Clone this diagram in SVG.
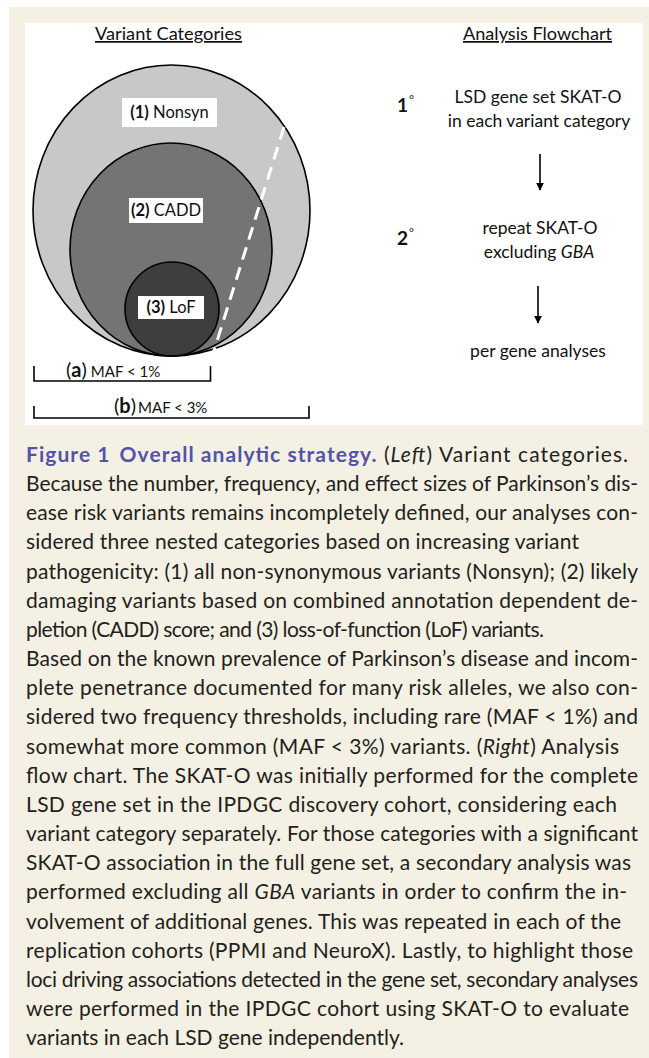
<svg xmlns="http://www.w3.org/2000/svg" width="649" height="1058" viewBox="0 0 649 1058">
<defs>
<style>
.dg{font-family:Lato,"Open Sans","Liberation Sans",sans-serif;fill:#111;}
.cap{font-family:Lato,"Liberation Sans",sans-serif;font-size:21px;fill:#231f20;}
.hd{font-size:17.5px;text-decoration:underline;}
.fl{font-size:17.5px;}
.lbl{font-size:16.5px;}
.box{fill:#fff;}
.ring{stroke:#000;stroke-width:1.6;}
.br{fill:none;stroke:#000;stroke-width:1.6;}
.arr{stroke:#000;stroke-width:1.6;fill:none;}
</style>
<marker id="ah" viewBox="0 0 10 10" refX="9" refY="5" markerWidth="5" markerHeight="5" orient="auto" markerUnits="strokeWidth">
<path d="M0,0 L10,5 L0,10 z" fill="#000"/>
</marker>
</defs>
<rect x="9" y="7" width="640" height="1051" fill="#f4f0e3"/>
<rect x="25" y="23" width="618" height="402" fill="#fff"/>

<g id="variant-categories-title"><text class="dg hd" x="168.5" y="40" text-anchor="middle" textLength="147" lengthAdjust="spacingAndGlyphs">Variant Categories</text></g>
<g id="analysis-flowchart-title"><text class="dg hd" x="537.5" y="40" text-anchor="middle" textLength="149" lengthAdjust="spacingAndGlyphs">Analysis Flowchart</text></g>

<g id="nonsyn">
<ellipse class="ring" cx="171.5" cy="210.5" rx="138.5" ry="145.5" fill="#c8c8c8"/>
</g>
<g id="cadd">
<ellipse class="ring" cx="171" cy="249.5" rx="101" ry="106.5" fill="#747474"/>
</g>
<g id="lof">
<ellipse class="ring" cx="172" cy="309" rx="47" ry="47" fill="#3e3e3e"/>
</g>
<g id="maf-divider">
<line x1="284" y1="127" x2="213" y2="354" stroke="#fff" stroke-width="3" stroke-dasharray="13,8"/>
</g>
<g id="label-nonsyn">
<rect class="box" x="122" y="98" width="95" height="29"/>
<text class="dg lbl" x="169.5" y="118" text-anchor="middle"><tspan font-weight="bold">(1)</tspan> Nonsyn</text>
</g>
<g id="label-cadd">
<rect class="box" x="129" y="198" width="74" height="25"/>
<text class="dg lbl" x="166" y="216" text-anchor="middle"><tspan font-weight="bold">(2)</tspan> CADD</text>
</g>
<g id="label-lof">
<rect class="box" x="138" y="296" width="66" height="23"/>
<text class="dg lbl" x="171" y="313" text-anchor="middle"><tspan font-weight="bold">(3)</tspan> LoF</text>
</g>

<g id="maf-1">
<path class="br" d="M34,366 V381 H210.5 V366"/>
<text class="dg" x="66" y="377" font-size="20">(<tspan font-weight="bold">a</tspan>)<tspan font-size="15" dx="4">MAF &lt; 1%</tspan></text>
</g>
<g id="maf-3">
<path class="br" d="M34,406 V418 H309 V406"/>
<text class="dg" x="114" y="413" font-size="20">(<tspan font-weight="bold">b</tspan>)<tspan font-size="15" dx="2">MAF &lt; 3%</tspan></text>
</g>

<g id="step-1">
<text class="dg" x="397" y="112" font-size="19"><tspan font-weight="bold">1</tspan><tspan font-size="12" dy="-8" dx="1">°</tspan></text>
<text class="dg fl" x="538" y="103" text-anchor="middle">LSD gene set SKAT-O</text>
<text class="dg fl" x="539" y="127" text-anchor="middle">in each variant category</text>
</g>
<g id="step-2">
<text class="dg" x="397" y="245" font-size="19"><tspan font-weight="bold">2</tspan><tspan font-size="12" dy="-8" dx="1">°</tspan></text>
<text class="dg fl" x="540" y="234" text-anchor="middle">repeat SKAT-O</text>
<text class="dg fl" x="539" y="258" text-anchor="middle">excluding <tspan font-style="italic">GBA</tspan></text>
</g>
<g id="step-3">
<text class="dg fl" x="538" y="357" text-anchor="middle">per gene analyses</text>
</g>

<g id="connectors">
<line class="arr" x1="540" y1="154" x2="540" y2="190" marker-end="url(#ah)"/>
<line class="arr" x1="538" y1="286" x2="538" y2="323" marker-end="url(#ah)"/>
</g>

<g id="caption">
<text class="cap" x="26" y="462" textLength="602" lengthAdjust="spacing"><tspan font-weight="bold" fill="#5353a8">Figure 1</tspan><tspan font-weight="bold" fill="#5353a8" dx="9">Overall analytic strategy.</tspan> (<tspan font-style="italic">Left</tspan>) Variant categories.</text>
<text class="cap" x="26" y="491" textLength="612" lengthAdjust="spacing">Because the number, frequency, and effect sizes of Parkinson’s dis-</text>
<text class="cap" x="26" y="520" textLength="612" lengthAdjust="spacing">ease risk variants remains incompletely defined, our analyses con-</text>
<text class="cap" x="26" y="549" textLength="553" lengthAdjust="spacing">sidered three nested categories based on increasing variant</text>
<text class="cap" x="26" y="579" textLength="612" lengthAdjust="spacing">pathogenicity: (1) all non-synonymous variants (Nonsyn); (2) likely</text>
<text class="cap" x="26" y="608" textLength="612" lengthAdjust="spacing">damaging variants based on combined annotation dependent de-</text>
<text class="cap" x="26" y="637" textLength="518" lengthAdjust="spacing">pletion (CADD) score; and (3) loss-of-function (LoF) variants.</text>
<text class="cap" x="26" y="666" textLength="612" lengthAdjust="spacing">Based on the known prevalence of Parkinson’s disease and incom-</text>
<text class="cap" x="26" y="695" textLength="612" lengthAdjust="spacing">plete penetrance documented for many risk alleles, we also con-</text>
<text class="cap" x="26" y="724" textLength="612" lengthAdjust="spacing">sidered two frequency thresholds, including rare (MAF &lt; 1%) and</text>
<text class="cap" x="26" y="754" textLength="593" lengthAdjust="spacing">somewhat more common (MAF &lt; 3%) variants. (<tspan font-style="italic">Right</tspan>) Analysis</text>
<text class="cap" x="26" y="783" textLength="612" lengthAdjust="spacing">flow chart. The SKAT-O was initially performed for the complete</text>
<text class="cap" x="26" y="812" textLength="591" lengthAdjust="spacing">LSD gene set in the IPDGC discovery cohort, considering each</text>
<text class="cap" x="26" y="841" textLength="612" lengthAdjust="spacing">variant category separately. For those categories with a significant</text>
<text class="cap" x="26" y="870" textLength="605" lengthAdjust="spacing">SKAT-O association in the full gene set, a secondary analysis was</text>
<text class="cap" x="26" y="899" textLength="601" lengthAdjust="spacing">performed excluding all <tspan font-style="italic">GBA</tspan> variants in order to confirm the in-</text>
<text class="cap" x="26" y="929" textLength="595" lengthAdjust="spacing">volvement of additional genes. This was repeated in each of the</text>
<text class="cap" x="26" y="958" textLength="607" lengthAdjust="spacing">replication cohorts (PPMI and NeuroX). Lastly, to highlight those</text>
<text class="cap" x="26" y="987" textLength="612" lengthAdjust="spacing">loci driving associations detected in the gene set, secondary analyses</text>
<text class="cap" x="26" y="1016" textLength="603" lengthAdjust="spacing">were performed in the IPDGC cohort using SKAT-O to evaluate</text>
<text class="cap" x="26" y="1045" textLength="378" lengthAdjust="spacing">variants in each LSD gene independently.</text>
</g>
</svg>
